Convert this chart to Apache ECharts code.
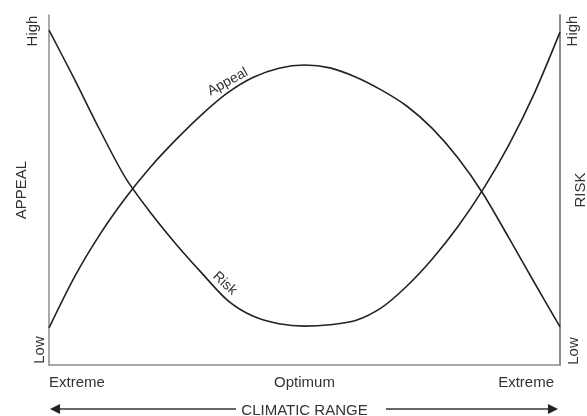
<!DOCTYPE html>
<html>
<head>
<meta charset="utf-8">
<script src="https://cdn.jsdelivr.net/npm/echarts@6/dist/echarts.min.js"></script>
<style>
html, body { margin: 0; padding: 0; background: #fff; }
#main { width: 587px; height: 416px; }
</style>
</head>
<body>
<div id="main"></div>
<script>
// climatic range: 0 = extreme, 50 = optimum, 100 = extreme
var climate = [0, 5, 10, 15, 20, 25, 30, 35, 40, 45, 50, 55, 60, 65, 70, 75, 80, 85, 90, 95, 100];
var appeal = [10.6, 25.2, 37.4, 47.8, 56.8, 64.6, 71.7, 77.8, 82.2, 84.8, 85.7, 84.9, 82.3, 78.6, 74.0, 67.6, 59.2, 48.8, 36.3, 23.5, 10.9];
var risk = [95.7, 81.6, 67.0, 53.4, 43.3, 34.3, 26.1, 18.4, 13.9, 11.8, 11.1, 11.5, 12.7, 16.3, 22.5, 30.3, 39.5, 50.3, 62.9, 77.7, 95.1];
var xTickLabels = { 0: 'Extreme', 50: 'Optimum', 100: 'Extreme' };
var yTickLabels = ['Low', 'High'];

var font = 'Liberation Sans, Arial, sans-serif';
var txt = '#333';

function pairs(ys) {
    return climate.map(function (x, i) { return [x, ys[i]]; });
}

var myChart = echarts.init(document.getElementById('main'));

myChart.setOption({
    animation: false,
    grid: { left: 49, right: 27, top: 15, bottom: 51, containLabel: false, outerBoundsMode: 'none' },
    xAxis: {
        type: 'value',
        min: 0,
        max: 100,
        interval: 50,
        name: 'CLIMATIC RANGE',
        nameLocation: 'middle',
        nameGap: 38,
        nameTextStyle: { fontFamily: font, fontSize: 15, color: txt },
        axisLine: { show: true, lineStyle: { color: '#8c8c8c', width: 1.5 } },
        axisTick: { show: false },
        splitLine: { show: false },
        axisLabel: {
            margin: 10,
            fontFamily: font,
            fontSize: 15,
            color: txt,
            alignMinLabel: 'left',
            alignMaxLabel: 'right',
            formatter: function (v) {
                if (v === 100) return '{r|' + xTickLabels[v] + '}';
                return xTickLabels[v] || '';
            },
            rich: {
                r: { fontFamily: font, fontSize: 15, color: txt, padding: [0, 6, 0, 0] }
            }
        }
    },
    yAxis: [{
        type: 'value',
        min: 0,
        max: 100,
        name: 'APPEAL',
        nameLocation: 'middle',
        nameRotate: 90,
        nameGap: 20,
        nameTextStyle: { fontFamily: font, fontSize: 15, color: txt },
        axisLine: { show: true, lineStyle: { color: '#8c8c8c', width: 1.5 } },
        axisTick: { show: false },
        axisLabel: { show: false },
        splitLine: { show: false }
    }, {
        type: 'value',
        position: 'right',
        min: 0,
        max: 100,
        name: 'RISK',
        nameLocation: 'middle',
        nameRotate: 90,
        nameGap: 13,
        nameTextStyle: { fontFamily: font, fontSize: 15, color: txt },
        axisLine: { show: true, lineStyle: { color: '#666', width: 1.5 } },
        axisTick: { show: false },
        axisLabel: { show: false },
        splitLine: { show: false }
    }],
    series: [{
        name: 'Appeal',
        type: 'line',
        smooth: 0.3,
        symbol: 'none',
        lineStyle: { color: '#222', width: 1.6 },
        data: pairs(appeal)
    }, {
        name: 'Risk',
        type: 'line',
        smooth: 0.3,
        symbol: 'none',
        lineStyle: { color: '#222', width: 1.6 },
        data: pairs(risk)
    }]
});

// annotations: curve names, High/Low, arrows
var pA = myChart.convertToPixel({ gridIndex: 0 }, [35, 80.9]);
var pR = myChart.convertToPixel({ gridIndex: 0 }, [34.4, 23.3]);
var yHigh = myChart.convertToPixel({ yAxisIndex: 0 }, 100);
var yLow = myChart.convertToPixel({ yAxisIndex: 0 }, 0);
var lbl = { fontFamily: font, fontSize: 15, fill: txt, align: 'center', verticalAlign: 'middle' };

function text(s, x, y, rot, size) {
    return {
        type: 'text', x: x, y: y, rotation: rot,
        style: Object.assign({}, lbl, { text: s, fontSize: size || 15 })
    };
}

var arrowY = 409;
myChart.setOption({
    graphic: [
        text('Appeal', pA[0], pA[1], 0.5, 14),
        text('Risk', pR[0], pR[1], -0.75, 14),
        text(yTickLabels[1], 33, yHigh + 16, Math.PI / 2),
        text(yTickLabels[0], 40, yLow - 15, Math.PI / 2),
        text(yTickLabels[1], 573, yHigh + 16, Math.PI / 2),
        text(yTickLabels[0], 574, yLow - 14, Math.PI / 2),
        { type: 'line', shape: { x1: 56, y1: arrowY, x2: 236, y2: arrowY }, style: { stroke: '#333', lineWidth: 1.5 } },
        { type: 'line', shape: { x1: 386, y1: arrowY, x2: 551, y2: arrowY }, style: { stroke: '#333', lineWidth: 1.5 } },
        { type: 'polygon', shape: { points: [[50, arrowY], [60, arrowY - 5], [60, arrowY + 5]] }, style: { fill: '#222' } },
        { type: 'polygon', shape: { points: [[558, arrowY], [548, arrowY - 5], [548, arrowY + 5]] }, style: { fill: '#222' } }
    ]
});
</script>
</body>
</html>
